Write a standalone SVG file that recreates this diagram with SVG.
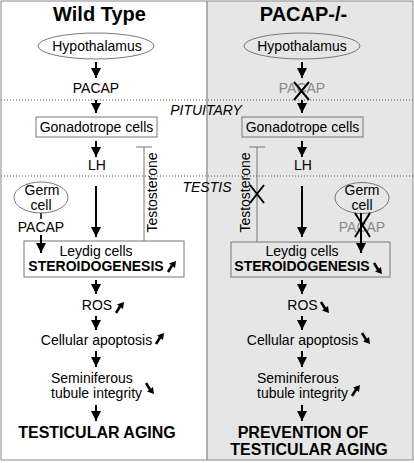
<svg xmlns="http://www.w3.org/2000/svg" width="414" height="463" viewBox="0 0 414 463">
<style>
text{font-family:"Liberation Sans",Arial,sans-serif;font-size:14px;fill:#000}
.title{font-size:20px;font-weight:bold}
.bold{font-weight:bold}
.big{font-size:16px;font-weight:bold}
.it{font-style:italic}
.gray{fill:#8a8a8a}
.box{fill:none;stroke:#777;stroke-width:1}
.ell{fill:none;stroke:#777;stroke-width:1}
.arr{stroke:#000;stroke-width:2;fill:none;marker-end:url(#ah)}
.inh{stroke:#777;stroke-width:1;fill:none}
.x{stroke:#000;stroke-width:2}
.dot{stroke:#555;stroke-width:1;stroke-dasharray:1,2}
</style>
<defs>
<marker id="ah" viewBox="0 0 10 10" refX="10" refY="5" markerWidth="10" markerHeight="10" markerUnits="userSpaceOnUse" orient="auto"><path d="M0,0 L10,5 L0,10 z" fill="#000"/></marker>
<g id="up"><line x1="1" y1="11" x2="5" y2="4.5" stroke="#000" stroke-width="2.5"/><path d="M2,2.5 L9,0 L8,7 z" fill="#000"/></g>
<g id="down"><line x1="1" y1="0" x2="5" y2="6.5" stroke="#000" stroke-width="2.5"/><path d="M2,8.5 L9,11 L8,4 z" fill="#000"/></g>
</defs>
<rect x="0" y="0" width="414" height="463" fill="#fff"/>
<rect x="207" y="1" width="206" height="459" fill="#e6e6e6"/>
<rect x="1" y="1" width="412" height="459" fill="none" stroke="#888" stroke-width="1"/>
<line x1="207" y1="1" x2="207" y2="460" stroke="#999" stroke-width="1.5"/>
<line class="dot" x1="1" y1="100" x2="413" y2="100"/>
<line class="dot" x1="1" y1="176" x2="413" y2="176"/>
<text class="it" x="206" y="115" text-anchor="middle">PITUITARY</text>
<text class="it" x="207" y="192" text-anchor="middle">TESTIS</text>

<text class="title" x="99.5" y="21" text-anchor="middle">Wild Type</text>
<text class="title" x="303.5" y="21" text-anchor="middle">PACAP-/-</text>

<g id="wt-hypothalamus"><ellipse class="ell" cx="96" cy="46" rx="58" ry="13"/><text x="97" y="51" text-anchor="middle">Hypothalamus</text></g>
<g id="wt-pacap"><text x="96" y="93" text-anchor="middle">PACAP</text></g>
<g id="wt-gonadotrope"><rect class="box" x="36" y="117" width="121" height="20"/><text x="96.5" y="132" text-anchor="middle">Gonadotrope cells</text></g>
<g id="wt-lh"><text x="97" y="170" text-anchor="middle">LH</text></g>
<g id="wt-germ"><ellipse class="ell" cx="41" cy="197.5" rx="27" ry="15.5"/><text x="42" y="195" text-anchor="middle">Germ</text><text x="41" y="210" text-anchor="middle">cell</text></g>
<g id="wt-germ-pacap"><text x="41" y="232" text-anchor="middle">PACAP</text></g>
<g id="wt-testosterone"><text x="157" y="192.5" text-anchor="middle" font-size="13.5" transform="rotate(-90 157 192.5)">Testosterone</text></g>
<g id="wt-leydig"><rect class="box" x="24" y="241" width="160" height="36"/><text x="96" y="256" text-anchor="middle">Leydig cells</text><text class="bold" x="96" y="271" text-anchor="middle">STEROIDOGENESIS</text><use href="#up" x="167" y="261"/></g>
<g id="wt-ros"><text x="97" y="310" text-anchor="middle">ROS</text><use href="#up" x="115" y="302"/></g>
<g id="wt-apoptosis"><text x="96.5" y="345" text-anchor="middle">Cellular apoptosis</text><use href="#up" x="155" y="333"/></g>
<g id="wt-seminiferous"><text x="51" y="383">Seminiferous</text><text x="51" y="398">tubule integrity</text><use href="#down" x="145" y="383"/></g>
<g id="wt-aging"><text class="big" x="97" y="438" text-anchor="middle">TESTICULAR AGING</text></g>

<g id="ko-hypothalamus"><ellipse class="ell" cx="302" cy="46" rx="58" ry="13"/><text x="302" y="51" text-anchor="middle">Hypothalamus</text></g>
<g id="ko-pacap"><text class="gray" x="302" y="93" text-anchor="middle">PACAP</text></g>
<g id="ko-gonadotrope"><rect class="box" x="242" y="117" width="121" height="20"/><text x="302.5" y="132" text-anchor="middle">Gonadotrope cells</text></g>
<g id="ko-lh"><text x="303" y="170" text-anchor="middle">LH</text></g>
<g id="ko-germ"><ellipse class="ell" cx="362" cy="198" rx="27" ry="15.5"/><text x="362" y="195" text-anchor="middle">Germ</text><text x="362" y="210" text-anchor="middle">cell</text></g>
<g id="ko-germ-pacap"><text class="gray" x="362" y="232" text-anchor="middle">PACAP</text></g>
<g id="ko-testosterone"><text x="250" y="192.5" text-anchor="middle" font-size="13.5" transform="rotate(-90 250 192.5)">Testosterone</text></g>
<g id="ko-leydig"><rect class="box" x="231" y="242" width="159" height="35"/><text x="302" y="256" text-anchor="middle">Leydig cells</text><text class="bold" x="302" y="271" text-anchor="middle">STEROIDOGENESIS</text><use href="#down" x="373" y="263"/></g>
<g id="ko-ros"><text x="302.5" y="310" text-anchor="middle">ROS</text><use href="#down" x="320" y="302"/></g>
<g id="ko-apoptosis"><text x="302.5" y="345" text-anchor="middle">Cellular apoptosis</text><use href="#down" x="361" y="333"/></g>
<g id="ko-seminiferous"><text x="257" y="383">Seminiferous</text><text x="257" y="398">tubule integrity</text><use href="#up" x="351" y="385"/></g>
<g id="ko-aging"><text class="big" x="303" y="438" text-anchor="middle">PREVENTION OF</text><text class="big" x="309" y="455" text-anchor="middle">TESTICULAR AGING</text></g>

<g id="connectors">
<line class="arr" x1="96" y1="62" x2="96" y2="78"/>
<line class="arr" x1="96" y1="100" x2="96" y2="113"/>
<line class="arr" x1="96" y1="141" x2="96" y2="157"/>
<line class="arr" x1="96" y1="186" x2="96" y2="237"/>
<line stroke="#000" stroke-width="1.5" x1="41" y1="213" x2="41" y2="219"/>
<line class="arr" x1="41" y1="235" x2="41" y2="253"/>
<line class="arr" x1="96" y1="280" x2="96" y2="294"/>
<line class="arr" x1="96" y1="316" x2="96" y2="330"/>
<line class="arr" x1="96" y1="351" x2="96" y2="367"/>
<line class="arr" x1="96" y1="405" x2="96" y2="421"/>
<path class="inh" d="M144,241 V147 M136,147 H152"/>

<line class="arr" x1="302" y1="62" x2="302" y2="78"/>
<line class="arr" x1="302" y1="100" x2="302" y2="113"/>
<line class="arr" x1="302" y1="141" x2="302" y2="157"/>
<line class="arr" x1="302" y1="186" x2="302" y2="237"/>
<line class="arr" x1="361" y1="213" x2="361" y2="253"/>
<line class="arr" x1="302" y1="280" x2="302" y2="294"/>
<line class="arr" x1="302" y1="316" x2="302" y2="330"/>
<line class="arr" x1="302" y1="351" x2="302" y2="367"/>
<line class="arr" x1="302" y1="405" x2="302" y2="421"/>
<path class="inh" d="M257,242 V147 M249,147 H265"/>

<path class="x" d="M294,82 L309,100 M309,82 L294,100"/>
<path class="x" d="M250,185 L264,203 M264,185 L250,203"/>
<path class="x" d="M355,213 L370,237 M370,213 L355,237"/>
</g>
</svg>
